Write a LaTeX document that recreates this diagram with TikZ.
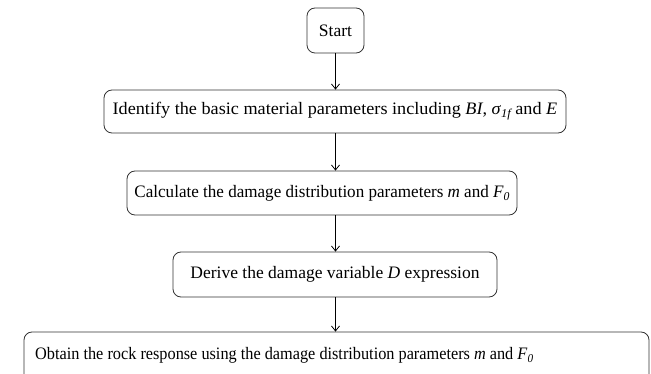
\documentclass[tikz,border=0pt]{standalone}
\usepackage{fontspec}
\usepackage{graphicx}
\setmainfont{Liberation Serif}
\usetikzlibrary{arrows.meta}
\newcommand{\sbs}[1]{\raisebox{-0.4ex}{\fontsize{12}{14}\selectfont\textit{#1}}}
\tikzset{
  box/.style={draw=black!80, line width=0.8pt, rounded corners=8pt, inner sep=0pt,
    font=\fontsize{17.5}{20}\selectfont},
  conn/.style={line width=0.8pt, -{Straight Barb[length=5pt,width=8pt]}}
}
\begin{document}
\begin{tikzpicture}[x=1pt,y=-1pt]
\path[use as bounding box] (0,0) rectangle (651,374);
\clip (0,0) rectangle (651,374);
\node[box, minimum width=57pt, minimum height=45pt] (s) at (335.5,30.5) {Start};
\node[box, minimum width=462pt, minimum height=43pt] (b2) at (335,111.5)
  {\scalebox{1.04}[1]{Identify the basic material parameters including \textit{BI}, \textit{σ}\sbs{1f}\,and \textit{E}}};
\node[box, minimum width=390pt, minimum height=44pt] (b3) at (322,193)
  {\scalebox{0.975}[1]{Calculate the damage distribution parameters \textit{m} and \textit{F}\sbs{0}}};
\node[box, minimum width=324pt, minimum height=45pt] (b4) at (335,274.5)
  {Derive the damage variable \textit{D} expression};
\node[box, minimum width=625pt, minimum height=80pt] (b5) at (336.5,372) {};
\node[anchor=west, font=\fontsize{17.5}{20}\selectfont, inner sep=0pt] (t5) at (35,355)
  {\scalebox{0.93}[1]{Obtain the rock response using the damage distribution parameters \textit{m} and \textit{F}\sbs{0}}};
\draw[conn] (s.south) -- (s.south |- b2.north);
\draw[conn] (s.south |- b2.south) -- (s.south |- b3.north);
\draw[conn] (s.south |- b3.south) -- (s.south |- b4.north);
\draw[conn] (s.south |- b4.south) -- (s.south |- b5.north);
\end{tikzpicture}
\end{document}
